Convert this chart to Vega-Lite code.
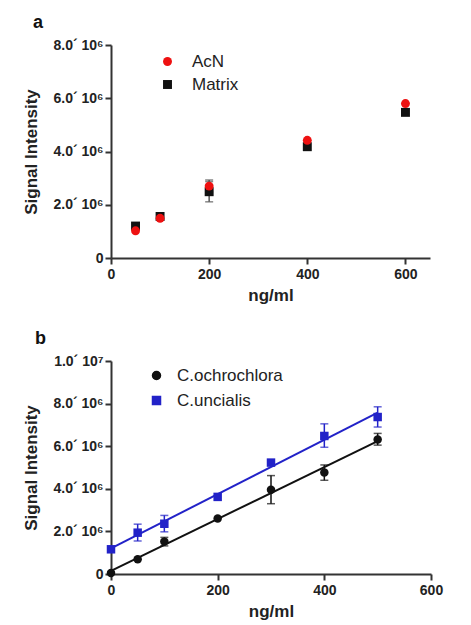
{
  "$schema": "https://vega.github.io/schema/vega-lite/v6.json",
  "padding": {"left": 22, "top": 14, "right": 5, "bottom": 5},
  "spacing": 27,
  "background": "white",
  "resolve": {"scale": {"color": "independent", "shape": "independent", "x": "independent", "y": "independent"}, "legend": {"color": "independent", "shape": "independent"}},
  "config": {
    "font": "Liberation Sans",
    "view": {"stroke": null},
    "axis": {
      "domainColor": "#333333",
      "domainWidth": 2,
      "tickColor": "#333333",
      "tickWidth": 2,
      "tickSize": 6,
      "grid": false,
      "labelFlush": false,
      "labelFont": "Liberation Sans",
      "labelFontWeight": "bold",
      "labelFontSize": 14,
      "labelColor": "#222222",
      "titleFont": "Liberation Sans",
      "titleFontWeight": "bold",
      "titleFontSize": 17,
      "titleColor": "#222222"
    },
    "legend": {
      "labelFont": "Liberation Sans",
      "labelFontSize": 17,
      "labelColor": "#222222",
      "title": null
    },
    "title": {"font": "Liberation Sans", "fontSize": 18, "fontWeight": "bold", "anchor": "start", "frame": "bounds", "color": "#111111"}
  },
  "datasets": {
    "panelA": [
      {"conc": 50, "signal": 1020000, "group": "AcN"},
      {"conc": 100, "signal": 1490000, "group": "AcN"},
      {"conc": 200, "signal": 2700000, "lo": 2480000, "hi": 2930000, "group": "AcN"},
      {"conc": 400, "signal": 4420000, "group": "AcN"},
      {"conc": 600, "signal": 5800000, "group": "AcN"},
      {"conc": 50, "signal": 1200000, "group": "Matrix"},
      {"conc": 100, "signal": 1560000, "group": "Matrix"},
      {"conc": 200, "signal": 2490000, "lo": 2110000, "hi": 2870000, "group": "Matrix"},
      {"conc": 400, "signal": 4180000, "group": "Matrix"},
      {"conc": 600, "signal": 5470000, "group": "Matrix"}
    ],
    "panelB": [
      {"conc": 0, "signal": 50000, "species": "C.ochrochlora"},
      {"conc": 50, "signal": 690000, "species": "C.ochrochlora"},
      {"conc": 100, "signal": 1520000, "lo": 1320000, "hi": 1720000, "species": "C.ochrochlora"},
      {"conc": 200, "signal": 2610000, "species": "C.ochrochlora"},
      {"conc": 300, "signal": 3960000, "lo": 3300000, "hi": 4620000, "species": "C.ochrochlora"},
      {"conc": 400, "signal": 4760000, "lo": 4400000, "hi": 5120000, "species": "C.ochrochlora"},
      {"conc": 500, "signal": 6320000, "lo": 6050000, "hi": 6600000, "species": "C.ochrochlora"},
      {"conc": 0, "signal": 1160000, "species": "C.uncialis"},
      {"conc": 50, "signal": 1940000, "lo": 1550000, "hi": 2340000, "species": "C.uncialis"},
      {"conc": 100, "signal": 2360000, "lo": 1980000, "hi": 2750000, "species": "C.uncialis"},
      {"conc": 200, "signal": 3620000, "species": "C.uncialis"},
      {"conc": 300, "signal": 5230000, "species": "C.uncialis"},
      {"conc": 400, "signal": 6480000, "lo": 5950000, "hi": 7050000, "species": "C.uncialis"},
      {"conc": 500, "signal": 7370000, "lo": 6900000, "hi": 7850000, "species": "C.uncialis"}
    ]
  },
  "vconcat": [
    {
      "title": {"text": "a", "offset": 6, "dx": 10},
      "width": 319,
      "height": 213,
      "data": {"name": "panelA"},
      "layer": [
        {
          "transform": [{"filter": "isValid(datum.lo)"}],
          "mark": {"type": "errorbar", "ticks": {"size": 8, "strokeWidth": 1.5}, "thickness": 1.5},
          "encoding": {
            "x": {"field": "conc", "type": "quantitative"},
            "y": {"field": "lo", "type": "quantitative", "title": "Signal Intensity"},
            "y2": {"field": "hi"},
            "color": {"value": "#555555"}
          }
        },
        {
          "mark": {"type": "point", "filled": true, "opacity": 1, "size": 80},
          "encoding": {
            "x": {
              "field": "conc", "type": "quantitative",
              "scale": {"domain": [0, 650], "nice": false},
              "axis": {"values": [0, 200, 400, 600], "title": "ng/ml", "titlePadding": 6, "labelPadding": 3}
            },
            "y": {
              "field": "signal", "type": "quantitative",
              "scale": {"domain": [0, 8000000], "nice": false},
              "axis": {
                "values": [0, 2000000, 4000000, 6000000, 8000000],
                "title": "Signal Intensity",
                "titlePadding": 12,
                "labelExpr": "datum.value === 0 ? '0' : format(datum.value / 1e6, '.1f') + '´ 10⁶'"
              }
            },
            "color": {
              "field": "group", "type": "nominal",
              "scale": {"domain": ["AcN", "Matrix"], "range": ["#ee1111", "#111111"]},
              "legend": {"orient": "none", "legendX": 48, "legendY": 8, "symbolSize": 80, "rowPadding": 5, "labelOffset": 16}
            },
            "shape": {
              "field": "group", "type": "nominal",
              "scale": {"domain": ["AcN", "Matrix"], "range": ["circle", "square"]}
            },
            "order": {"field": "group", "sort": "descending"}
          }
        }
      ]
    },
    {
      "title": {"text": "b", "offset": 6, "dx": 12},
      "width": 320,
      "height": 213,
      "data": {"name": "panelB"},
      "encoding": {
        "x": {
          "field": "conc", "type": "quantitative",
          "scale": {"domain": [0, 600], "nice": false},
          "axis": {"values": [0, 200, 400, 600], "title": "ng/ml", "titlePadding": 6, "labelPadding": 3}
        },
        "color": {
          "field": "species", "type": "nominal",
          "scale": {"domain": ["C.ochrochlora", "C.uncialis"], "range": ["#111111", "#2222c8"]},
          "legend": {
            "orient": "none", "legendX": 37, "legendY": 6, "symbolSize": 64, "rowPadding": 7, "labelOffset": 12,
            "symbolOpacity": 1
          }
        }
      },
      "layer": [
        {
          "transform": [
            {"regression": "signal", "on": "conc", "groupby": ["species"], "extent": [0, 500]}
          ],
          "mark": {"type": "line", "strokeWidth": 2},
          "encoding": {
            "y": {"field": "signal", "type": "quantitative"}
          }
        },
        {
          "transform": [{"filter": "isValid(datum.lo)"}],
          "mark": {"type": "errorbar", "ticks": {"size": 8, "strokeWidth": 1.5}, "thickness": 1.5},
          "encoding": {
            "y": {"field": "lo", "type": "quantitative", "title": "Signal Intensity"},
            "y2": {"field": "hi"}
          }
        },
        {
          "mark": {"type": "point", "filled": true, "opacity": 1, "size": 72},
          "encoding": {
            "y": {
              "field": "signal", "type": "quantitative",
              "scale": {"domain": [0, 10000000], "nice": false},
              "axis": {
                "values": [0, 2000000, 4000000, 6000000, 8000000, 10000000],
                "title": "Signal Intensity",
                "titlePadding": 12,
                "labelExpr": "datum.value === 0 ? '0' : datum.value === 10000000 ? '1.0´ 10⁷' : format(datum.value / 1e6, '.1f') + '´ 10⁶'"
              }
            },
            "shape": {
              "field": "species", "type": "nominal",
              "scale": {"domain": ["C.ochrochlora", "C.uncialis"], "range": ["circle", "square"]},
              "legend": null
            }
          }
        }
      ]
    }
  ]
}
